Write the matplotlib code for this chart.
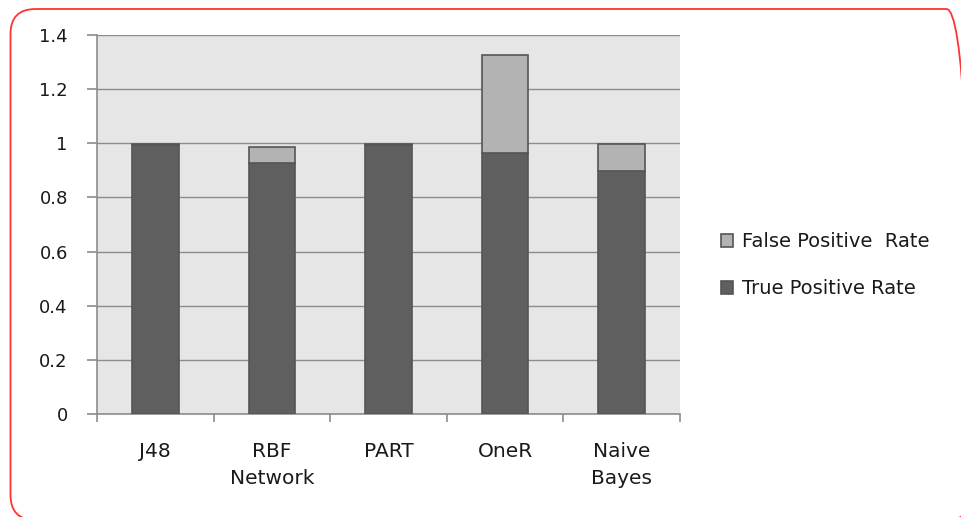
import numpy as np
import matplotlib.pyplot as plt
from matplotlib.patches import FancyBboxPatch

# Data
classifiers = ["J48", "RBF\nNetwork", "PART", "OneR", "Naive\nBayes"]
true_positive = [0.993, 0.927, 0.993, 0.964, 0.898]
false_positive = [0.004, 0.059, 0.004, 0.362, 0.099]

plt.rcParams['font.family'] = ['DejaVu Sans']
FS = 13
TXT = "#1a1a1a"

fig = plt.figure(figsize=(9.62, 5.17), dpi=100)
ax = fig.add_axes([0.1008, 0.1992, 0.6061, 0.7331])

# rounded red frame around the whole chart (runs slightly off the right/bottom edge), in inches
frame = FancyBboxPatch((0.105, -0.03), 9.61, 5.11,
                       boxstyle="round,pad=0,rounding_size=0.25",
                       transform=fig.dpi_scale_trans, facecolor="none", edgecolor="#ff3333",
                       linewidth=1.3)
fig.patches.append(frame)

x = np.arange(len(classifiers))
width = 0.4
edge = "#555555"
ax.bar(x, true_positive, width, color="#5f5f5f", edgecolor=edge, linewidth=1.2,
       label="True Positive Rate", zorder=3)
ax.bar(x, false_positive, width, bottom=true_positive, color="#b3b3b3", edgecolor=edge,
       linewidth=1.2, label="False Positive  Rate", zorder=3)

ax.set_facecolor("#e6e6e6")
ax.set_xlim(-0.5, len(classifiers) - 0.5)
ax.set_ylim(0, 1.4)
ax.set_yticks(np.arange(0, 1.41, 0.2))
ax.set_yticklabels(["0", "0.2", "0.4", "0.6", "0.8", "1", "1.2", "1.4"])
ax.yaxis.grid(True, color="#8c8c8c", linewidth=1.0, zorder=1)
ax.set_axisbelow(True)

for side in ["top", "right"]:
    ax.spines[side].set_visible(False)
for side in ["left", "bottom"]:
    ax.spines[side].set_color("#8c8c8c")
    ax.spines[side].set_linewidth(1.2)

# category labels between boundary tick marks
ax.set_xticks(np.arange(-0.5, len(classifiers)), minor=False)
ax.set_xticklabels([])
ax.set_xticks(x, minor=True)
ax.set_xticklabels(classifiers, minor=True, fontsize=14.5, color=TXT, linespacing=1.55)
ax.tick_params(axis="x", which="minor", length=0, pad=20)
ax.tick_params(axis="x", which="major", length=6, color="#8c8c8c", width=1.2)
ax.tick_params(axis="y", length=7, color="#8c8c8c", width=1.2, labelsize=FS,
               labelcolor=TXT, pad=14)

handles, labels = ax.get_legend_handles_labels()
ax.legend(handles[::-1], labels[::-1], loc="center left", bbox_to_anchor=(1.04, 0.393),
          frameon=False, fontsize=14, handlelength=0.65, handleheight=0.65,
          handletextpad=0.45, labelspacing=1.45, labelcolor=TXT)

fig.savefig("out.png", dpi=100)
